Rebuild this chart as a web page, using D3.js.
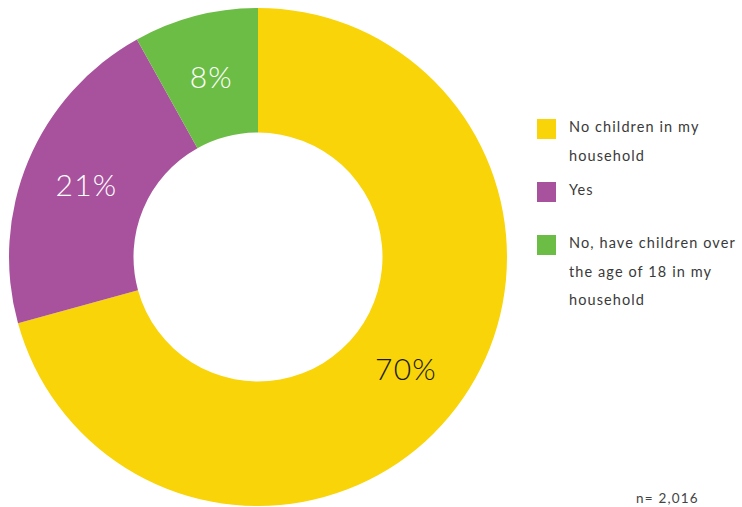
<!DOCTYPE html>
<html><head><meta charset="utf-8">
<script src="https://cdn.jsdelivr.net/npm/d3@7"></script>
<style>body{margin:0;background:#fff}svg{display:block}</style>
</head><body>
<svg id="c" width="742" height="507"></svg>
<script>
const categories = ["No children in my household", "Yes", "No, have children over the age of 18 in my household"];
const values = [70, 21, 8];
const colors = ["#F8D408", "#A8529E", "#6CBD45"];
const labelColors = ["#1a1a1a", "#ffffff", "#ffffff"];
const legendLines = [["No children in my", "household"], ["Yes"], ["No, have children over", "the age of 18 in my", "household"]];
const note = "n= 2,016";

const svg = d3.select("#c");
const font = "Lato, 'Open Sans', sans-serif";
const cx = 258, cy = 257, outerR = 249, innerR = 124.5;
const pie = d3.pie().sort(null).value(d => d)(values);
const arc = d3.arc().innerRadius(innerR).outerRadius(outerR);
const labelArc = d3.arc().innerRadius(186).outerRadius(186);
const g = svg.append("g").attr("transform", `translate(${cx},${cy})`);
g.selectAll("path").data(pie).join("path").attr("d", arc).attr("fill", (d,i) => colors[i]);
g.selectAll("text").data(pie).join("text")
  .attr("transform", d => `translate(${labelArc.centroid(d)})`)
  .attr("text-anchor", "middle").attr("dy", "0.36em")
  .attr("font-family", font).attr("font-weight", 300).attr("font-size", 30)
  .attr("letter-spacing", 1.2)
  .attr("fill", (d,i) => labelColors[i])
  .text(d => d.data + "%");

const legendY = [119, 182, 235];
const lg = svg.append("g");
categories.forEach((c, i) => {
  lg.append("rect").attr("x", 537).attr("y", legendY[i]).attr("width", 19).attr("height", 20).attr("fill", colors[i]);
  legendLines[i].forEach((line, j) => {
    lg.append("text").attr("x", 569).attr("y", legendY[i] + 13 + j * 28.5)
      .attr("font-family", font).attr("font-size", 14.5).attr("letter-spacing", 1.1)
      .attr("fill", "#3a3a3a").text(line);
  });
});
svg.append("text").attr("x", 636).attr("y", 503).attr("font-family", font)
  .attr("font-size", 13.5).attr("letter-spacing", 1.2).attr("fill", "#444").text(note);
</script>
</body></html>
